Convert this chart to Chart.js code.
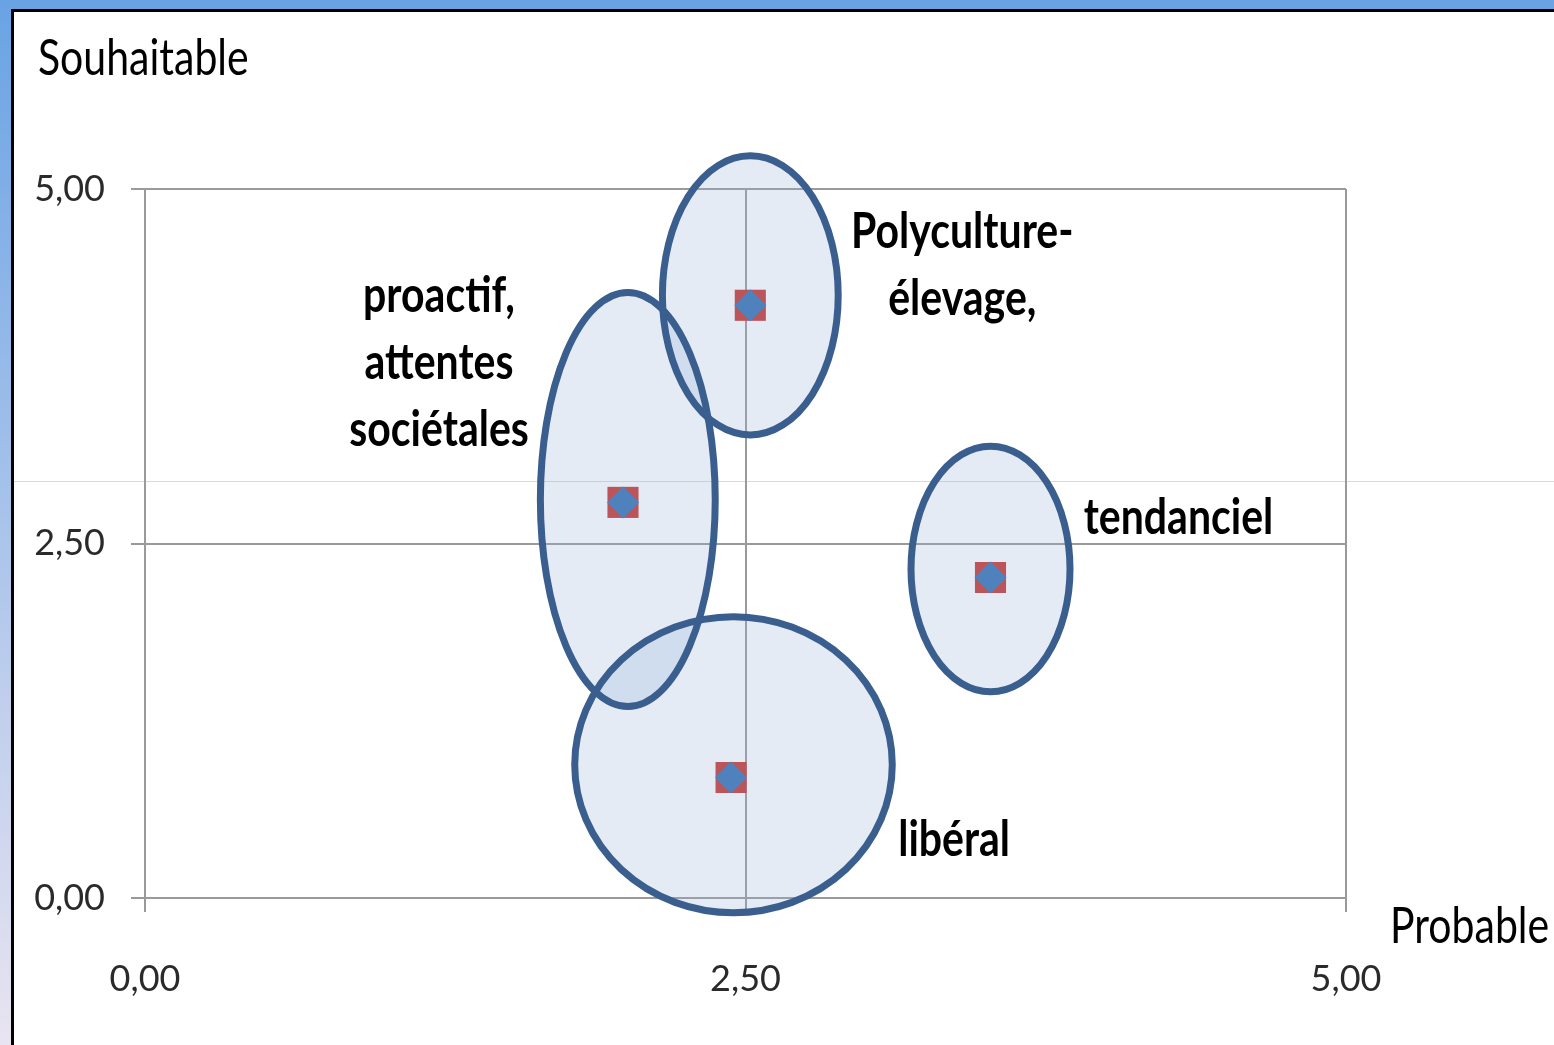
<!DOCTYPE html>
<html>
<head>
<meta charset="utf-8">
<title>Scénarios : souhaitable / probable</title>
<script src="https://cdn.jsdelivr.net/npm/chart.js@4.4.1/dist/chart.umd.min.js"></script>
<style>
    body {
        margin: 0;
        width: 1554px;
        height: 1045px;
        overflow: hidden;
        position: relative;
        background: linear-gradient(#69a3e4, #e9e4f1);
    }
    #frame {
        position: absolute;
        left: 11px;
        top: 9px;
        right: 0;
        bottom: 0;
        background: #fff;
        border-top: 3px solid #000;
        border-left: 3px solid #000;
    }
    #glare {
        position: absolute;
        left: 14px;
        right: 0;
        top: 481px;
        height: 1px;
        background: #cadcf2;
    }
    canvas {
        position: absolute;
        left: 0;
        top: 0;
    }
</style>
</head>
<body>
<div id="frame"></div>
<div id="glare"></div>
<canvas id="chart" width="1554" height="1045"></canvas>
<script>
// scenarios: name, probable (x), souhaitable (y)
const scenarioNames = [
    ["Polyculture-", "élevage,"],
    ["proactif,", "attentes", "sociétales"],
    ["tendanciel"],
    ["libéral"],
];
const scenarioX = [2.52, 1.99, 3.52, 2.44];
const scenarioY = [4.18, 2.79, 2.26, 0.85];

// spread of the answers around each scenario (centre and half-axes, data units)
const spreadX = [2.52, 2.01, 3.52, 2.45];
const spreadY = [4.25, 2.81, 2.32, 0.94];
const spreadRx = [0.366, 0.364, 0.331, 0.661];
const spreadRy = [0.984, 1.46, 0.866, 1.044];

const tickValues = [0, 2.5, 5];
const axisTitles = { x: "Probable", y: "Souhaitable" };

function formatTick(value) {
    return value.toFixed(2).replace(".", ",");
}

const points = scenarioX.map((x, i) => ({ x: x, y: scenarioY[i] }));

const ellipsePlugin = {
    id: "spreadEllipses",
    beforeDatasetsDraw(chart) {
        const { ctx, scales } = chart;
        const shapes = spreadX.map((cx, i) => {
            const px = scales.x.getPixelForValue(cx);
            const py = scales.y.getPixelForValue(spreadY[i]);
            return {
                x: px,
                y: py,
                rx: scales.x.getPixelForValue(cx + spreadRx[i]) - px,
                ry: py - scales.y.getPixelForValue(spreadY[i] + spreadRy[i]),
            };
        });
        ctx.save();
        ctx.fillStyle = "rgba(151, 178, 217, 0.26)";
        shapes.forEach((s) => {
            ctx.beginPath();
            ctx.ellipse(s.x, s.y, s.rx, s.ry, 0, 0, Math.PI * 2);
            ctx.fill();
        });
        ctx.strokeStyle = "#3a5e8e";
        ctx.lineWidth = 7;
        shapes.forEach((s) => {
            ctx.beginPath();
            ctx.ellipse(s.x, s.y, s.rx, s.ry, 0, 0, Math.PI * 2);
            ctx.stroke();
        });
        ctx.restore();
    },
};

const labelPlugin = {
    id: "scenarioLabels",
    afterDatasetsDraw(chart, args, opts) {
        const { ctx, scales, chartArea } = chart;
        ctx.save();
        ctx.fillStyle = "#000";

        // scenario names, stretched a little like the original slide
        ctx.font = "bold 41px Lato";
        ctx.textAlign = "center";
        scenarioNames.forEach((lines, i) => {
            const px = scales.x.getPixelForValue(scenarioX[i]) + opts.offsets[i][0];
            const py = scales.y.getPixelForValue(scenarioY[i]) + opts.offsets[i][1];
            lines.forEach((line, j) => {
                ctx.save();
                ctx.translate(px, py + j * opts.lineGap);
                ctx.scale(1, opts.stretch);
                ctx.fillText(line, 0, 0);
                ctx.restore();
            });
        });

        // axis titles
        ctx.font = "41px Lato";
        ctx.textAlign = "left";
        ctx.save();
        ctx.translate(chartArea.left - 107, chartArea.top - 114);
        ctx.scale(1, opts.stretch);
        ctx.fillText(axisTitles.y, 0, 0);
        ctx.restore();
        ctx.save();
        ctx.translate(chartArea.right + 44, chartArea.bottom + 45);
        ctx.scale(1, opts.stretch);
        ctx.fillText(axisTitles.x, 0, 0);
        ctx.restore();
        ctx.restore();
    },
};

const tickFont = { family: "Lato", size: 36 };
const gridStyle = { color: "#9a9a9a", lineWidth: 2, tickLength: 14 };

new Chart(document.getElementById("chart"), {
    type: "scatter",
    data: {
        datasets: [
            {
                label: "moyenne",
                data: points,
                pointStyle: "rectRot",
                pointRadius: 16,
                backgroundColor: "#4f81bd",
                borderWidth: 0,
            },
            {
                label: "médiane",
                data: points,
                pointStyle: "rect",
                pointRadius: 22,
                backgroundColor: "#bb5559",
                borderWidth: 0,
            },
        ],
    },
    options: {
        responsive: false,
        animation: false,
        layout: { padding: { left: 0, top: 189, right: 208, bottom: 47 } },
        plugins: {
            legend: { display: false },
            tooltip: { enabled: false },
            scenarioLabels: {
                offsets: [[212, -57], [-184, -190], [188, -44], [223, 79]],
                lineGap: 67,
                stretch: 1.22,
            },
        },
        scales: {
            x: {
                min: 0,
                max: 5,
                afterBuildTicks: (scale) => {
                    scale.ticks = tickValues.map((v) => ({ value: v }));
                },
                afterFit: (scale) => {
                    scale.height = 100;
                },
                ticks: {
                    callback: formatTick,
                    font: tickFont,
                    color: "#2a2a2a",
                    padding: 46,
                    maxRotation: 0,
                },
                grid: gridStyle,
                border: { color: "#9a9a9a", width: 2 },
            },
            y: {
                min: 0,
                max: 5,
                afterBuildTicks: (scale) => {
                    scale.ticks = tickValues.map((v) => ({ value: v }));
                },
                afterFit: (scale) => {
                    scale.width = 145;
                },
                ticks: {
                    callback: formatTick,
                    font: tickFont,
                    color: "#2a2a2a",
                    padding: 26,
                },
                grid: gridStyle,
                border: { color: "#9a9a9a", width: 2 },
            },
        },
    },
    plugins: [ellipsePlugin, labelPlugin],
});
</script>
</body>
</html>
